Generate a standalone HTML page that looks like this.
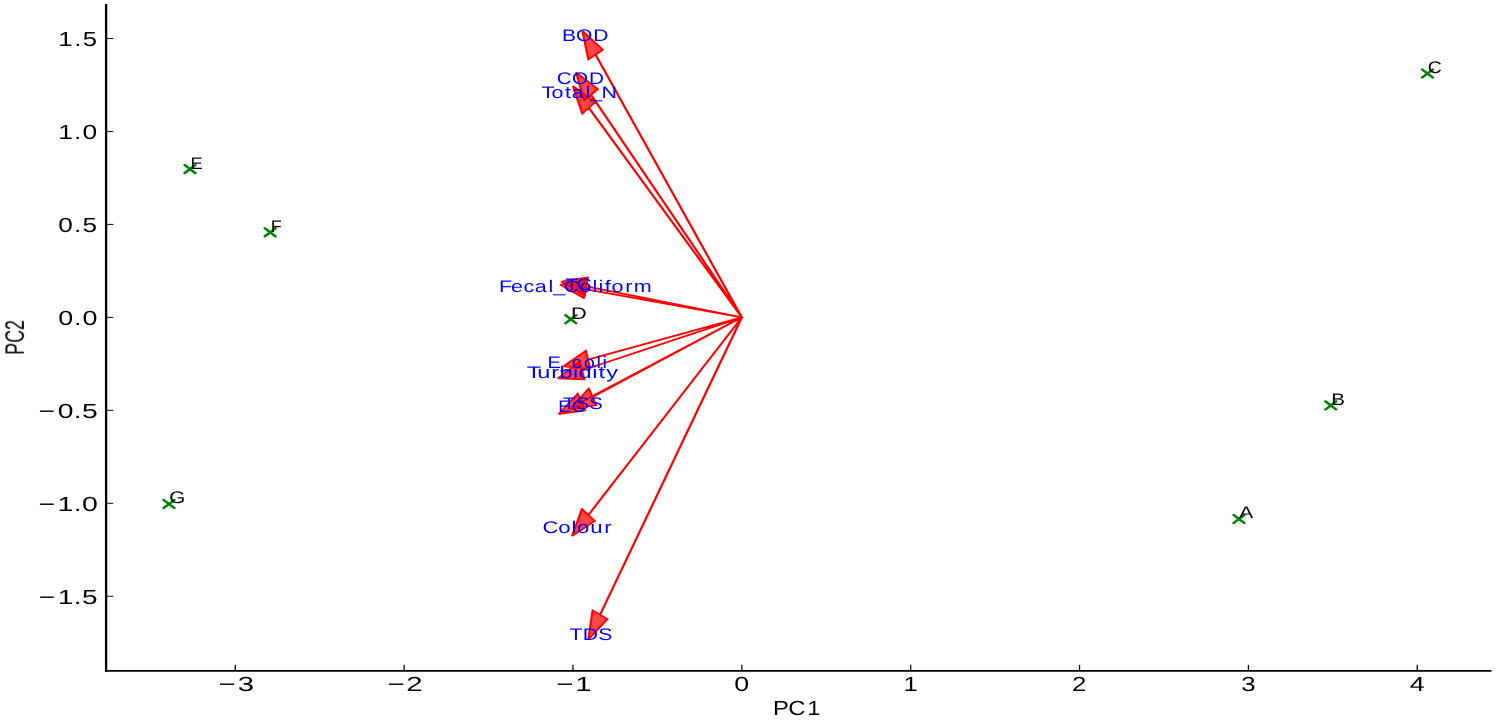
<!DOCTYPE html>
<html><head><meta charset="utf-8"><style>
html,body{margin:0;padding:0;background:#fff;}
svg{display:block;}
text{font-family:"Liberation Sans",sans-serif;text-rendering:geometricPrecision;}
</style></head><body>
<svg width="1496" height="720" viewBox="0 0 1496 720">
<rect width="1496" height="720" fill="#fff"/>
<g transform="scale(1.3190,1)"><g fill="rgba(255,0,0,0.72)"><polygon points="441.52,30.87 457.01,49.79 451.61,54.60 562.49,317.30 562.38,317.40 451.50,54.70 446.10,59.51 441.52,30.87"/><polygon points="436.62,72.35 453.24,89.15 448.16,94.66 562.48,317.29 562.38,317.41 448.05,94.77 442.98,100.27 436.62,72.35"/><polygon points="434.36,86.05 451.39,101.96 446.45,107.72 562.48,317.29 562.38,317.41 446.35,107.84 441.41,113.61 434.36,86.05"/><polygon points="425.59,281.53 445.62,277.33 444.50,286.38 562.45,317.26 562.42,317.44 444.48,286.57 443.35,295.63 425.59,281.53"/><polygon points="424.68,284.52 444.67,279.86 443.64,288.94 562.44,317.26 562.42,317.44 443.62,289.13 442.59,298.21 424.68,284.52"/><polygon points="427.17,366.43 444.25,350.65 445.78,359.58 562.42,317.26 562.45,317.44 445.81,359.76 447.35,368.69 427.17,366.43"/><polygon points="422.83,378.54 439.37,361.59 441.20,370.40 562.42,317.26 562.45,317.44 441.24,370.58 443.07,379.39 422.83,378.54"/><polygon points="431.96,409.11 446.45,388.58 449.21,396.87 562.41,317.27 562.46,317.43 449.27,397.04 452.03,405.32 431.96,409.11"/><polygon points="423.47,414.11 438.02,393.67 440.76,401.97 562.41,317.27 562.46,317.43 440.81,402.14 443.55,410.44 423.47,414.11"/><polygon points="433.62,536.16 441.23,508.92 446.05,514.90 562.39,317.29 562.48,317.41 446.15,515.02 450.96,521.00 433.62,536.16"/><polygon points="446.04,639.42 449.30,610.40 454.91,614.68 562.38,317.31 562.49,317.39 455.02,614.77 460.63,619.04 446.04,639.42"/></g><path fill="#ff0000" d="M442.14,30.36L457.63,49.28L456.39,50.30L440.90,31.38ZM457.54,50.39L452.14,55.20L451.08,54.00L456.48,49.19ZM452.35,54.29L563.23,316.99L561.75,317.61L450.87,54.91ZM563.02,317.90L562.91,318.00L561.85,316.80L561.96,316.70ZM561.64,317.71L450.76,55.01L452.24,54.39L563.12,317.09ZM452.03,55.30L446.63,60.11L445.57,58.91L450.97,54.10ZM445.31,59.64L440.73,31.00L442.31,30.74L446.89,59.38ZM457.01,49.79L457.63,49.28L458.12,49.88L457.54,50.39ZM450.87,54.91L450.65,54.38L451.08,54.00L451.61,54.60ZM562.49,317.30L563.23,316.99L563.45,317.52L563.02,317.90ZM562.38,317.40L562.91,318.00L562.32,318.52L561.95,318.44L561.64,317.71ZM450.97,54.10L451.56,53.57L451.93,53.66L452.24,54.39L451.50,54.70ZM446.10,59.51L446.63,60.11L446.01,60.66L445.44,60.45L445.31,59.64ZM437.19,71.79L453.81,88.59L452.67,89.72L436.06,72.92ZM453.82,89.70L448.74,95.20L447.57,94.11L452.65,88.61ZM448.87,94.29L563.20,316.93L561.77,317.66L447.45,95.02ZM563.07,317.84L562.97,317.95L561.79,316.86L561.90,316.75ZM561.67,317.77L447.34,95.13L448.77,94.40L563.09,317.04ZM448.64,95.31L443.56,100.81L442.39,99.73L447.47,94.23ZM442.20,100.45L435.84,72.53L437.40,72.18L443.76,100.09ZM453.24,89.15L453.81,88.59L454.34,89.13L453.82,89.70ZM447.45,95.02L447.19,94.53L447.57,94.11L448.16,94.66ZM562.48,317.29L563.20,316.93L563.45,317.43L563.07,317.84ZM562.38,317.41L562.97,317.95L562.43,318.53L562.03,318.48L561.67,317.77ZM447.47,94.23L448.01,93.64L448.40,93.69L448.77,94.40L448.05,94.77ZM442.98,100.27L443.56,100.81L443.00,101.43L442.38,101.26L442.20,100.45ZM434.91,85.46L451.93,101.37L450.84,102.54L433.82,86.63ZM451.99,102.48L447.06,108.24L445.84,107.20L450.78,101.44ZM447.15,107.34L563.18,316.90L561.78,317.68L445.75,108.11ZM563.09,317.81L562.99,317.93L561.78,316.89L561.88,316.77ZM561.68,317.80L445.65,108.23L447.05,107.45L563.08,317.02ZM446.96,108.36L442.02,114.13L440.80,113.09L445.74,107.32ZM440.64,113.81L433.59,86.25L435.14,85.85L442.19,113.41ZM451.39,101.96L451.93,101.37L452.49,101.89L451.99,102.48ZM445.75,108.11L445.48,107.63L445.84,107.20L446.45,107.72ZM562.48,317.29L563.18,316.90L563.45,317.39L563.09,317.81ZM562.38,317.41L562.99,317.93L562.47,318.53L562.07,318.49L561.68,317.80ZM445.74,107.32L446.26,106.71L446.66,106.76L447.05,107.45L446.35,107.84ZM441.41,113.61L442.02,114.13L441.47,114.76L440.84,114.62L440.64,113.81ZM425.43,280.75L445.46,276.54L445.79,278.11L425.75,282.31ZM446.42,277.42L445.29,286.48L443.70,286.29L444.83,277.23ZM444.70,285.61L562.65,316.48L562.24,318.03L444.30,287.16ZM563.24,317.36L563.22,317.54L561.63,317.34L561.65,317.16ZM562.22,318.22L444.27,287.34L444.68,285.79L562.62,316.67ZM445.27,286.67L444.15,295.72L442.56,295.53L443.68,286.47ZM442.85,296.25L425.09,282.16L426.09,280.90L443.85,295.00ZM445.62,277.33L445.46,276.54L446.24,276.38L446.51,276.64L446.42,277.42ZM444.30,287.16L443.62,286.98L443.70,286.29L444.50,286.38ZM562.45,317.26L562.65,316.48L563.33,316.66L563.24,317.36ZM562.42,317.44L563.22,317.54L563.12,318.31L562.97,318.41L562.22,318.22ZM443.68,286.47L443.78,285.70L443.93,285.60L444.68,285.79L444.48,286.57ZM443.35,295.63L444.15,295.72L444.04,296.54L443.50,296.77L442.85,296.25ZM424.50,283.74L444.49,279.08L444.85,280.64L424.86,285.30ZM445.46,279.95L444.44,289.03L442.85,288.85L443.87,279.77ZM443.83,288.16L562.63,316.48L562.26,318.04L443.46,289.72ZM563.24,317.35L563.22,317.53L561.63,317.35L561.65,317.17ZM562.24,318.22L443.44,289.90L443.81,288.35L562.61,316.66ZM444.42,289.22L443.39,298.30L441.80,298.12L442.83,289.04ZM442.11,298.85L424.20,285.15L425.17,283.88L443.08,297.57ZM444.67,279.86L444.49,279.08L445.26,278.90L445.55,279.16L445.46,279.95ZM443.46,289.72L442.77,289.56L442.85,288.85L443.64,288.94ZM562.44,317.26L562.63,316.48L563.32,316.64L563.24,317.35ZM562.42,317.44L563.22,317.53L563.13,318.30L562.99,318.40L562.24,318.22ZM442.83,289.04L442.91,288.27L443.05,288.17L443.81,288.35L443.62,289.13ZM442.59,298.21L443.39,298.30L443.30,299.12L442.76,299.35L442.11,298.85ZM426.62,365.84L443.70,350.06L444.79,351.23L427.71,367.01ZM445.03,350.51L446.57,359.44L444.99,359.71L443.46,350.78ZM445.51,358.82L562.15,316.51L562.69,318.01L446.05,360.33ZM563.21,317.12L563.24,317.30L561.66,317.58L561.63,317.40ZM562.72,318.19L446.09,360.51L445.54,359.00L562.18,316.69ZM446.60,359.62L448.14,368.55L446.56,368.82L445.02,359.89ZM447.26,369.48L427.08,367.22L427.26,365.63L447.44,367.89ZM444.25,350.65L443.70,350.06L444.31,349.50L444.89,349.69L445.03,350.51ZM446.05,360.33L445.32,360.59L445.13,360.48L444.99,359.71L445.78,359.58ZM562.42,317.26L562.15,316.51L562.88,316.24L563.07,316.36L563.21,317.12ZM562.45,317.44L563.24,317.30L563.35,317.96L562.72,318.19ZM445.02,359.89L444.91,359.23L445.54,359.00L445.81,359.76ZM447.35,368.69L448.14,368.55L448.27,369.33L448.04,369.57L447.26,369.48ZM422.26,377.99L438.79,361.03L439.94,362.14L423.41,379.10ZM440.15,361.42L441.98,370.23L440.42,370.56L438.58,361.75ZM440.88,369.66L562.09,316.53L562.74,317.99L441.52,371.13ZM563.20,317.10L563.24,317.28L561.67,317.60L561.63,317.42ZM562.77,318.17L441.56,371.31L440.91,369.84L562.13,316.71ZM442.02,370.41L443.85,379.22L442.28,379.55L440.45,370.74ZM443.03,380.19L422.80,379.34L422.87,377.75L443.10,378.59ZM439.37,361.59L438.79,361.03L439.38,360.43L439.98,360.61L440.15,361.42ZM441.52,371.13L440.80,371.44L440.57,371.33L440.42,370.56L441.20,370.40ZM562.42,317.26L562.09,316.53L562.81,316.21L563.04,316.33L563.20,317.10ZM562.45,317.44L563.24,317.28L563.37,317.91L562.77,318.17ZM440.45,370.74L440.32,370.10L440.91,369.84L441.24,370.58ZM443.07,379.39L443.85,379.22L444.01,379.99L443.82,380.22L443.03,380.19ZM431.30,408.64L445.80,388.12L447.10,389.04L432.61,409.57ZM447.21,388.33L449.97,396.62L448.45,397.12L445.69,388.84ZM448.75,396.21L561.95,316.61L562.87,317.92L449.67,397.52ZM563.16,317.01L563.22,317.18L561.70,317.69L561.65,317.52ZM562.92,318.09L449.73,397.69L448.81,396.38L562.00,316.78ZM450.03,396.78L452.79,405.07L451.27,405.57L448.51,397.29ZM452.18,406.11L432.11,409.89L431.81,408.32L451.88,404.53ZM446.45,388.58L445.80,388.12L446.28,387.44L446.94,387.53L447.21,388.33ZM449.67,397.52L449.03,397.98L448.70,397.87L448.45,397.12L449.21,396.87ZM562.41,317.27L561.95,316.61L562.59,316.16L562.92,316.26L563.16,317.01ZM562.46,317.43L563.22,317.18L563.41,317.75L562.92,318.09ZM448.51,397.29L448.32,396.72L448.81,396.38L449.27,397.04ZM452.03,405.32L452.79,405.07L453.03,405.80L452.94,405.96L452.18,406.11ZM422.82,413.64L437.36,393.20L438.67,394.13L424.12,414.57ZM438.78,393.42L441.51,401.72L440.00,402.22L437.26,393.92ZM440.30,401.31L561.95,316.61L562.86,317.92L441.21,402.62ZM563.17,317.02L563.22,317.18L561.70,317.68L561.65,317.52ZM562.92,318.09L441.27,402.79L440.35,401.48L562.00,316.78ZM441.57,401.88L444.31,410.18L442.79,410.69L440.05,402.39ZM443.69,411.22L423.61,414.89L423.32,413.32L443.41,409.65ZM438.02,393.67L437.36,393.20L437.85,392.52L438.51,392.62L438.78,393.42ZM441.21,402.62L440.56,403.08L440.24,402.97L440.00,402.22L440.76,401.97ZM562.41,317.27L561.95,316.61L562.60,316.16L562.92,316.27L563.17,317.02ZM562.46,317.43L563.22,317.18L563.41,317.75L562.92,318.09ZM440.05,402.39L439.86,401.82L440.35,401.48L440.81,402.14ZM443.55,410.44L444.31,410.18L444.55,410.92L444.46,411.08L443.69,411.22ZM432.85,535.94L440.46,508.70L442.00,509.13L434.39,536.37ZM441.86,508.42L446.67,514.40L445.43,515.40L440.61,509.42ZM445.36,514.49L561.70,316.88L563.07,317.70L446.74,515.31ZM563.01,316.79L563.11,316.91L561.86,317.91L561.76,317.79ZM563.17,317.82L446.84,515.43L445.46,514.62L561.79,317.00ZM446.77,514.52L451.59,520.50L450.34,521.51L445.52,515.52ZM451.49,521.61L434.14,536.76L433.09,535.56L450.44,520.40ZM441.23,508.92L440.46,508.70L440.69,507.90L441.33,507.76L441.86,508.42ZM446.74,515.31L446.33,515.99L445.93,516.02L445.43,515.40L446.05,514.90ZM562.39,317.29L561.70,316.88L562.10,316.20L562.51,316.17L563.01,316.79ZM562.48,317.41L563.11,316.91L563.45,317.34L563.17,317.82ZM445.52,515.52L445.18,515.09L445.46,514.62L446.15,515.02ZM450.96,521.00L451.59,520.50L452.07,521.10L451.49,521.61ZM445.25,639.33L448.50,610.31L450.09,610.49L446.84,639.51ZM449.78,609.77L455.40,614.04L454.43,615.32L448.81,611.04ZM454.16,614.41L561.62,317.03L563.13,317.58L455.66,614.95ZM562.86,316.67L562.98,316.76L562.01,318.03L561.89,317.94ZM563.24,317.67L455.78,615.04L454.27,614.49L561.74,317.12ZM455.51,614.13L461.12,618.41L460.15,619.68L454.54,615.40ZM461.28,619.51L446.69,639.89L445.39,638.95L459.98,618.58ZM449.30,610.40L448.50,610.31L448.60,609.49L449.13,609.27L449.78,609.77ZM455.66,614.95L455.39,615.70L455.05,615.80L454.43,615.32L454.91,614.68ZM562.38,317.31L561.62,317.03L561.89,316.29L562.23,316.19L562.86,316.67ZM562.49,317.39L562.98,316.76L563.44,317.11L563.24,317.67ZM454.54,615.40L454.07,615.05L454.27,614.49L455.02,614.77ZM460.63,619.04L461.12,618.41L461.73,618.88L461.73,618.88L461.28,619.51Z"/></g><g transform="scale(1.3190,1)" stroke="#008000" stroke-width="2.2" stroke-linecap="round" fill="none"><path d="M935.30,514.95L943.40,523.05M935.30,523.05L943.40,514.95"/><path d="M1004.90,401.35L1013.00,409.45M1004.90,409.45L1013.00,401.35"/><path d="M1078.21,69.45L1086.31,77.55M1078.21,77.55L1086.31,69.45"/><path d="M428.70,315.15L436.80,323.25M428.70,323.25L436.80,315.15"/><path d="M140.00,165.05L148.10,173.15M140.00,173.15L148.10,165.05"/><path d="M200.80,228.25L208.90,236.35M200.80,236.35L208.90,228.25"/><path d="M124.08,499.95L132.18,508.05M124.08,508.05L132.18,499.95"/></g><g transform="scale(1.3190,1)" stroke="#000" fill="none"><path d="M80.440,4.12L80.440,671.73" stroke-width="1.75"/><path d="M79.565,670.85L1130.746,670.85" stroke-width="1.75"/><path d="M178.393,670.85L178.393,664.75" stroke-width="0.95"/><path d="M306.406,670.85L306.406,664.75" stroke-width="0.95"/><path d="M434.420,670.85L434.420,664.75" stroke-width="0.95"/><path d="M562.434,670.85L562.434,664.75" stroke-width="0.95"/><path d="M690.447,670.85L690.447,664.75" stroke-width="0.95"/><path d="M818.461,670.85L818.461,664.75" stroke-width="0.95"/><path d="M946.475,670.85L946.475,664.75" stroke-width="0.95"/><path d="M1074.488,670.85L1074.488,664.75" stroke-width="0.95"/><path d="M80.440,596.27L85.890,596.27" stroke-width="0.95"/><path d="M80.440,503.30L85.890,503.30" stroke-width="0.95"/><path d="M80.440,410.33L85.890,410.33" stroke-width="0.95"/><path d="M80.440,317.35L85.890,317.35" stroke-width="0.95"/><path d="M80.440,224.38L85.890,224.38" stroke-width="0.95"/><path d="M80.440,131.40L85.890,131.40" stroke-width="0.95"/><path d="M80.440,38.43L85.890,38.43" stroke-width="0.95"/></g>
<g opacity="0.999">
<text transform="translate(216.54,690.60) scale(1.4337,1)" x="1.46 14.86" font-size="20.45" fill="#000">−3</text>
<text transform="translate(385.39,690.60) scale(1.4393,1)" x="1.43 14.52" font-size="20.45" fill="#000">−2</text>
<text transform="translate(554.24,690.60) scale(1.4388,1)" x="1.43 14.64" font-size="20.45" fill="#000">−1</text>
<text transform="translate(733.75,690.60) scale(1.3120,1)" x="0.48" font-size="20.45" fill="#000">0</text>
<text transform="translate(902.60,690.60) scale(1.2531,1)" x="0.67" font-size="20.45" fill="#000">1</text>
<text transform="translate(1071.45,690.60) scale(1.2641,1)" x="0.45" font-size="20.45" fill="#000">2</text>
<text transform="translate(1240.30,690.60) scale(1.2597,1)" x="0.76" font-size="20.45" fill="#000">3</text>
<text transform="translate(1409.15,690.60) scale(1.3120,1)" x="0.48" font-size="20.45" fill="#000">4</text>
<text transform="translate(36.20,603.51) scale(1.3688,1)" x="1.81 15.69 27.51 33.47" font-size="20.45" fill="#000">−1.5</text>
<text transform="translate(36.20,510.53) scale(1.3922,1)" x="1.68 15.33 27.00 32.88" font-size="20.45" fill="#000">−1.0</text>
<text transform="translate(36.20,417.56) scale(1.3836,1)" x="1.73 15.57 27.19 33.05" font-size="20.45" fill="#000">−0.5</text>
<text transform="translate(57.53,324.58) scale(1.3151,1)" x="0.47 12.54 18.93" font-size="20.45" fill="#000">0.0</text>
<text transform="translate(57.53,231.61) scale(1.2816,1)" x="0.63 12.94 19.50" font-size="20.45" fill="#000">0.5</text>
<text transform="translate(57.53,138.63) scale(1.2900,1)" x="0.48 12.84 19.41" font-size="20.45" fill="#000">1.0</text>
<text transform="translate(57.53,45.66) scale(1.2548,1)" x="0.66 13.28 20.03" font-size="20.45" fill="#000">1.5</text>
<text transform="translate(772.70,714.90) scale(1.1636,1)" x="0.18 13.33 29.64" font-size="20.45" fill="#000">PC1</text>
<text transform="translate(1239.00,518.30) scale(1.2619,1)" x="0.10" font-size="16.85" fill="#000">A</text>
<text transform="translate(1330.80,405.30) scale(1.2171,1)" x="0.32" font-size="16.85" fill="#000">B</text>
<text transform="translate(1427.50,72.60) scale(1.1628,1)" x="0.16" font-size="16.85" fill="#000">C</text>
<text transform="translate(570.80,318.75) scale(1.2957,1)" x="0.22" font-size="16.85" fill="#000">D</text>
<text transform="translate(190.00,168.75) scale(1.0853,1)" x="0.53" font-size="16.85" fill="#000">E</text>
<text transform="translate(270.20,231.95) scale(1.0734,1)" x="0.55" font-size="16.85" fill="#000">F</text>
<text transform="translate(169.00,503.20) scale(1.2215,1)" x="0.12" font-size="16.85" fill="#000">G</text>
<text transform="translate(561.86,40.80) scale(1.2508,1)" x="0.15 11.37 25.01" font-size="16.85" fill="#0000ff">BOD</text>
<text transform="translate(557.09,83.90) scale(1.2310,1)" x="-0.19 12.17 26.02" font-size="16.85" fill="#0000ff">COD</text>
<text transform="translate(541.61,97.85) scale(1.2721,1)" x="-0.08 7.71 18.33 23.75 34.56 38.23 47.15" font-size="16.85" fill="#0000ff">Total_N</text>
<text transform="translate(565.16,289.70) scale(1.2586,1)" x="-0.02 8.93" font-size="16.85" fill="#0000ff">TC</text>
<text transform="translate(499.48,291.80) scale(1.2809,1)" x="-0.43 8.98 18.83 27.51 38.27 41.90 50.24 62.53 72.66 77.25 82.17 87.56 98.19 104.81" font-size="16.85" fill="#0000ff">Fecal_Coliform</text>
<text transform="translate(547.45,367.70) scale(1.1956,1)" x="-0.07 10.91 20.42 30.40 41.06 45.97" font-size="16.85" fill="#0000ff">E_coli</text>
<text transform="translate(527.44,378.10) scale(1.3994,1)" x="-0.54 6.99 17.05 22.87 32.49 36.47 46.25 50.78 56.36" font-size="16.85" fill="#0000ff">Turbidity</text>
<text transform="translate(562.83,408.60) scale(1.1986,1)" x="0.23 10.82 21.99" font-size="16.85" fill="#0000ff">TSS</text>
<text transform="translate(558.00,411.60) scale(1.1270,1)" x="0.29 12.19" font-size="16.85" fill="#0000ff">EC</text>
<text transform="translate(543.33,533.40) scale(1.3165,1)" x="-0.58 11.41 21.35 25.67 35.61 46.21" font-size="16.85" fill="#0000ff">Colour</text>
<text transform="translate(569.40,639.70) scale(1.2591,1)" x="-0.02 10.64 22.93" font-size="16.85" fill="#0000ff">TDS</text>
<text transform="translate(23.6,354.77) scale(1.3190,1) rotate(-90) scale(0.8738,1)" font-size="20.45" fill="#000">PC2</text>
</g>
</svg>
</body></html>
